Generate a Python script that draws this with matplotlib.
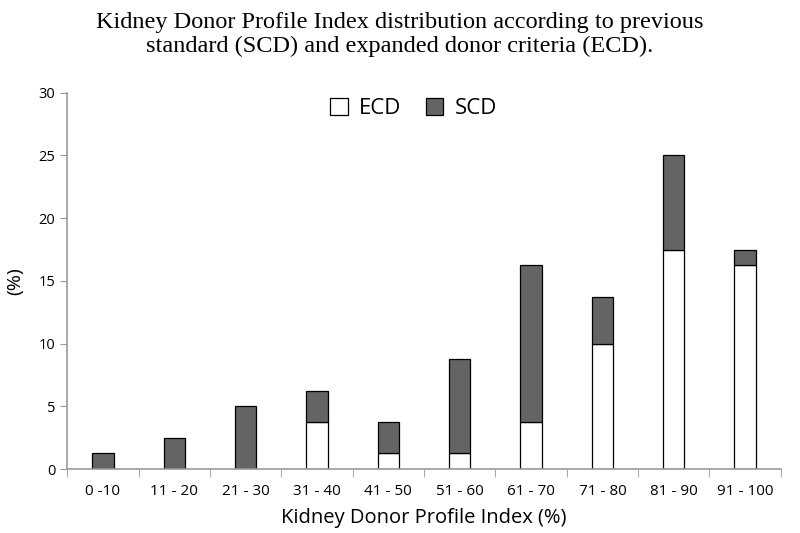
import numpy as np
import matplotlib
matplotlib.use("Agg")
import matplotlib.pyplot as plt

categories = ["0 -10", "11 - 20", "21 - 30", "31 - 40", "41 - 50",
              "51 - 60", "61 - 70", "71 - 80", "81 - 90", "91 - 100"]
ecd = [0, 0, 0, 3.75, 1.25, 1.25, 3.75, 10, 17.5, 16.25]
scd = [1.25, 2.5, 5, 2.5, 2.5, 7.5, 12.5, 3.75, 7.5, 1.25]

fig = plt.figure(figsize=(8, 5.33), dpi=100)
ax = fig.add_axes([0.084, 0.12, 0.892, 0.706])

x = np.arange(len(categories))
w = 0.3
ax.bar(x, ecd, w, color="white", edgecolor="black", linewidth=0.9, label="ECD")
ax.bar(x, scd, w, bottom=ecd, color="#646464", edgecolor="black",
       linewidth=0.9, label="SCD")

ax.set_xlim(-0.5, len(categories) - 0.5)
ax.set_ylim(0, 30)
ax.set_yticks(range(0, 31, 5))
ax.set_xticks(x)
ax.set_xticklabels(categories, fontsize=11, family="Open Sans")
ax.tick_params(axis="x", length=0, pad=11)
ax.set_xticks(np.arange(-0.5, len(categories)), minor=True)
ax.tick_params(axis="x", which="minor", length=6, color="#999999", direction="out")
ax.tick_params(axis="y", length=5, color="#999999", labelsize=10.5)
for lbl in ax.get_yticklabels():
    lbl.set_family("Open Sans")

for s in ("top", "right"):
    ax.spines[s].set_visible(False)
for s in ("left", "bottom"):
    ax.spines[s].set_color("#999999")
    ax.spines[s].set_linewidth(1.2)

ax.set_xlabel("Kidney Donor Profile Index (%)", fontsize=14.5, family="Open Sans", labelpad=6)
ax.set_ylabel("(%)", fontsize=14, family="Open Sans", labelpad=10)

ax.legend(loc="upper center", bbox_to_anchor=(0.485, 1.04), ncol=2, frameon=False,
          prop={"family": "Open Sans", "size": 16}, handlelength=0.8,
          handleheight=0.8, handletextpad=0.5, columnspacing=1.1)

fig.text(0.5, 0.978, "Kidney Donor Profile Index distribution according to previous\n"
         "standard (SCD) and expanded donor criteria (ECD).",
         ha="center", va="top", fontsize=17.5, family="Liberation Serif",
         linespacing=1.2)

fig.savefig("out.png", dpi=100, facecolor="white")
